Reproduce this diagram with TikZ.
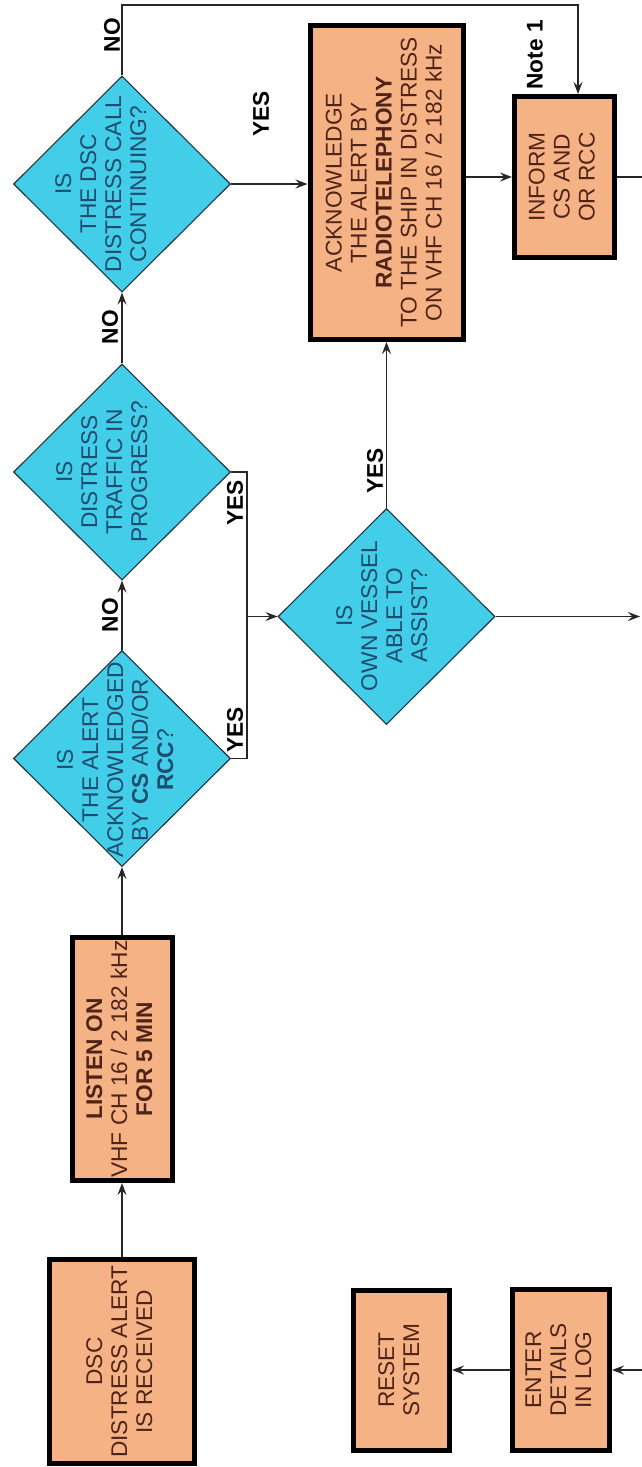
\documentclass[tikz,border=0pt]{standalone}
\usepackage{fontspec}
\setmainfont{Liberation Sans}
\usepackage{graphicx}
\usetikzlibrary{arrows.meta, shapes.geometric}
\definecolor{boxfill}{RGB}{245, 178, 132}
\definecolor{boxtext}{RGB}{80, 35, 25}
\definecolor{qfill}{RGB}{66, 206, 232}
\definecolor{qdraw}{RGB}{35, 50, 60}
\definecolor{qtextc}{RGB}{30, 75, 110}
\newcommand{\flowfont}{\fontsize{22.7}{25}\selectfont}
\newcommand{\vtext}[1]{\rotatebox{90}{\begin{tabular}{@{}c@{}}#1\end{tabular}}}

\begin{document}
\begin{tikzpicture}[
    x=1pt, y=-1pt, % 以像素为单位, y 轴向下
    font=\flowfont,
    % 定义组件样式
    actbox/.style={draw=black, line width=5pt, fill=boxfill, text=boxtext, inner sep=0pt},
    decision/.style={diamond, draw=qdraw, line width=1.1pt, fill=qfill, minimum width=217pt, minimum height=216pt, inner sep=0pt},
    qtext/.style={text=qtextc, inner sep=0pt},
    answer/.style={font=\flowfont\bfseries, rotate=90, inner sep=0pt},
    arrow/.style={-{Stealth[length=12pt, width=9pt, inset=4.5pt]}, line width=1.5pt, draw=black!85},
    line/.style={-, line width=1.5pt, draw=black!85}
]

\useasboundingbox (0,0) rectangle (642,1467);

% ==========================================
% 1. 操作框 (文字旋转 90 度)
% ==========================================
\node[actbox, minimum width=145pt, minimum height=204pt] (alert) at (122, 1361.5) {\vtext{DSC\\DISTRESS ALERT\\IS RECEIVED}};
\node[actbox, minimum width=100pt, minimum height=243pt] (listen) at (122, 1059) {\vtext{\textbf{LISTEN ON}\\VHF CH 16 / 2 182 kHz\\\textbf{FOR 5 MIN}}};
\node[actbox, minimum width=153pt, minimum height=314pt] (ack) at (386.5, 182.5) {\vtext{ACKNOWLEDGE\\THE ALERT BY\\\textbf{RADIOTELEPHONY}\\TO THE SHIP IN DISTRESS\\ON VHF CH 16 / 2 182 kHz}};
\node[actbox, minimum width=100pt, minimum height=161pt] (inform) at (564.5, 177) {\vtext{INFORM\\CS AND\\OR RCC}};
\node[actbox, minimum width=96pt, minimum height=160pt] (reset) at (401.5, 1370) {\vtext{RESET\\SYSTEM}};
\node[actbox, minimum width=97pt, minimum height=161pt] (enter) at (561, 1370) {\vtext{ENTER\\DETAILS\\IN LOG}};

% ==========================================
% 2. 判断菱形与其文字
% ==========================================
\node[decision] (q1) at (122, 758.5) {};
\node[decision] (q2) at (122, 472) {};
\node[decision] (q3) at (122, 184) {};
\node[decision] (q4) at (386.5, 616.5) {};

\node[qtext] (q1txt) at (118, 760) {\vtext{IS\\THE ALERT\\ACKNOWLEDGED\\BY \textbf{CS} AND/OR\\\textbf{RCC}?}};
\node[qtext] (q2txt) at (104.5, 472) {\vtext{IS\\DISTRESS\\TRAFFIC IN\\PROGRESS?}};
\node[qtext] (q3txt) at (103.5, 184) {\vtext{IS\\THE DSC\\DISTRESS CALL\\CONTINUING?}};
\node[qtext] (q4txt) at (384.5, 616) {\vtext{IS\\OWN VESSEL\\ABLE TO\\ASSIST?}};

% 连线端点
\coordinate (noturn) at (578, 5);
\coordinate (yesjoin) at (247, 616.5);
\coordinate (vesselout) at (640, 616.5);
\coordinate (informout) at (642, 177);
\coordinate (logfeed) at (642, 1370);

% ==========================================
% 3. 连线
% ==========================================
% 左侧主干 (自下而上)
\draw[arrow] (alert) -- (listen);
\draw[arrow] (listen) -- (q1);
\draw[arrow] (q1) -- (q2);
\draw[arrow] (q2) -- (q3);

% 顶部 NO 分支绕到 INFORM
\draw[arrow] (q3.north) |- (noturn) -- (noturn |- inform.north);

% YES 分支
\draw[arrow] (q3.east) -- (q3.east -| ack.west);
\draw[arrow] (ack.east |- inform.west) -- (inform.west);
\draw[line] (inform.east) -- (informout);

% 两个 YES 汇合后进入 q4
\draw[line] (q1.east) -| (yesjoin) |- (q2.east);
\draw[arrow] (yesjoin) -- (q4.west);
\draw[arrow] (q4.north) -- (q4.north |- ack.south);
\draw[arrow] (q4.east) -- (vesselout);

% 右下方记录与复位
\draw[arrow] (logfeed) -- (enter.east);
\draw[arrow] (enter) -- (reset);

% ==========================================
% 4. YES / NO 标注
% ==========================================
\node[answer] (no3) at (112, 35) {NO};
\node[answer] (yes3) at (261, 114) {YES};
\node[answer] (no2) at (110, 327) {NO};
\node[answer] (no1) at (110, 615) {NO};
\node[answer] (yes2) at (235, 503) {YES};
\node[answer] (yes1) at (235, 730) {YES};
\node[answer] (yes4) at (375, 471) {YES};
\node[answer] (note) at (535, 55) {Note 1};

\end{tikzpicture}
\end{document}
